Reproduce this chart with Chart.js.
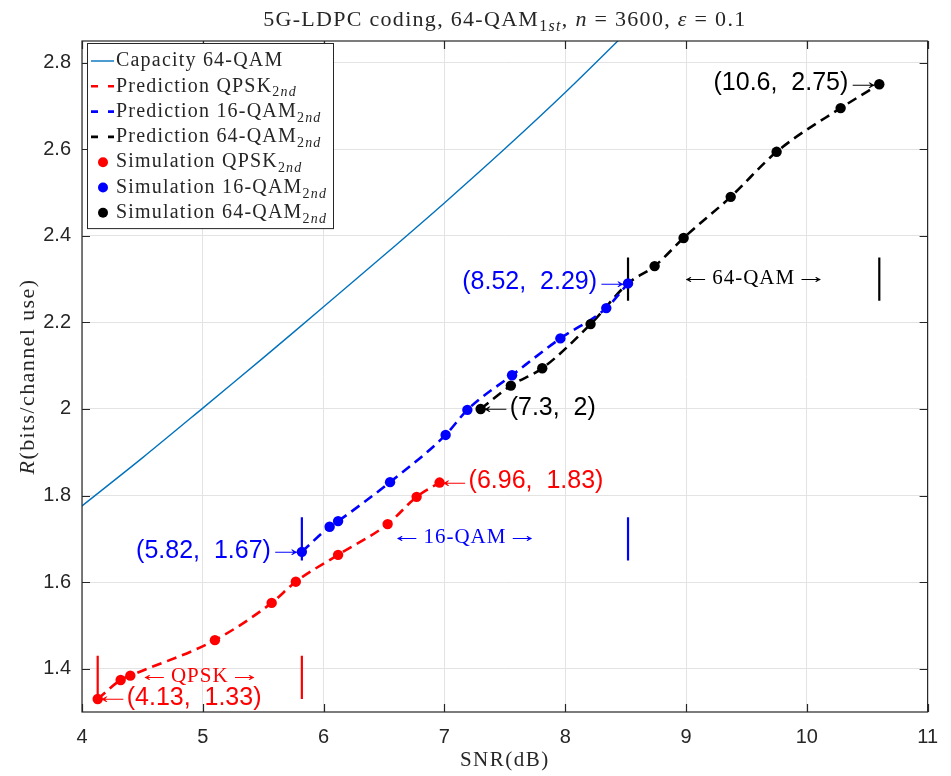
<!DOCTYPE html>
<html>
<head>
<meta charset="utf-8">
<script src="https://cdn.jsdelivr.net/npm/chart.js@4/dist/chart.umd.min.js"></script>
<style>
  html, body { margin: 0; padding: 0; background: #fff; }
  canvas { display: block; }
</style>
</head>
<body>
<canvas id="rateChart" width="951" height="776"></canvas>
<script>
/* ========= DATA ========= */

const xTicks = [4, 5, 6, 7, 8, 9, 10, 11];
const yTicks = [1.4, 1.6, 1.8, 2, 2.2, 2.4, 2.6, 2.8];

// 64-QAM capacity curve
const capSnr  = [4, 4.5, 5, 5.5, 6, 6.5, 7, 7.5, 8, 8.5, 8.7];
const capRate = [1.776, 1.887, 2.002, 2.118, 2.236, 2.355, 2.476, 2.601, 2.731, 2.868, 2.925];

// predicted rate per 2nd-layer modulation
const predQpskSnr  = [4.13, 4.32, 4.4, 5.1, 5.57, 5.77, 6.12, 6.53, 6.77, 6.96];
const predQpskRate = [1.33, 1.374, 1.384, 1.466, 1.552, 1.601, 1.663, 1.734, 1.797, 1.83];
const pred16Snr  = [5.82, 6.05, 6.12, 6.55, 7.01, 7.19, 7.56, 7.96, 8.34, 8.52];
const pred16Rate = [1.67, 1.728, 1.741, 1.831, 1.94, 1.998, 2.078, 2.163, 2.233, 2.29];
const pred64Snr  = [7.3, 7.55, 7.81, 8.21, 8.52, 8.74, 8.98, 9.37, 9.75, 10.28, 10.6];
const pred64Rate = [2, 2.054, 2.094, 2.196, 2.29, 2.33, 2.395, 2.49, 2.594, 2.695, 2.75];

// simulated rate per 2nd-layer modulation
const simQpskSnr  = [4.13, 4.32, 4.4, 5.1, 5.57, 5.77, 6.12, 6.53, 6.77, 6.96];
const simQpskRate = [1.33, 1.374, 1.384, 1.466, 1.552, 1.601, 1.663, 1.734, 1.797, 1.83];
const sim16Snr  = [5.82, 6.05, 6.12, 6.55, 7.01, 7.19, 7.56, 7.96, 8.34, 8.52];
const sim16Rate = [1.67, 1.728, 1.741, 1.831, 1.94, 1.998, 2.078, 2.163, 2.233, 2.29];
const sim64Snr  = [7.3, 7.55, 7.81, 8.21, 8.74, 8.98, 9.37, 9.75, 10.28, 10.6];
const sim64Rate = [2, 2.054, 2.094, 2.196, 2.33, 2.395, 2.49, 2.594, 2.695, 2.75];

// switching points between modulations (SNR, rate)
const tagsQpsk = [[4.13, 1.33], [6.96, 1.83]];
const tags16   = [[5.82, 1.67], [8.52, 2.29]];
const tags64   = [[7.3, 2], [10.6, 2.75]];

// SNR range where each modulation is used
const regionNames = ["QPSK", "16-QAM", "64-QAM"];
const regionEdges = [[4.13, 5.82], [5.82, 8.52], [8.52, 10.6]];


/* ========= STYLE ========= */

const RED = "#ff0000";
const BLUE = "#0000ff";
const BLACK = "#000000";
const CAP = "#0072bd";
const AXIS = "#262626";
const SERIF = '"Liberation Serif", "Times New Roman", serif';
const SANS = '"Liberation Sans", Arial, sans-serif';

const toPoints = (xs, ys) => xs.map((x, i) => ({ x: x, y: ys[i] }));

function predLine(label, xs, ys, color) {
    return {
        label: label,
        data: toPoints(xs, ys),
        showLine: true,
        borderColor: color,
        borderWidth: 2.6,
        borderDash: [10, 6],
        cubicInterpolationMode: "monotone",
        pointRadius: 0,
        order: 5
    };
}

function simDots(label, xs, ys, color) {
    return {
        label: label,
        data: toPoints(xs, ys),
        showLine: false,
        backgroundColor: color,
        pointRadius: 5.2,
        pointBorderWidth: 0,
        order: 1
    };
}

// vertical bars marking where each modulation starts and stops
const barSpan = { "QPSK": [1.33, 1.43], "16-QAM": [1.65, 1.75], "64-QAM": [2.25, 2.35] };
const regionColor = { "QPSK": RED, "16-QAM": BLUE, "64-QAM": BLACK };
const regionTextY = { "QPSK": 1.381, "16-QAM": 1.704, "64-QAM": 2.302 };

const barSets = [];
regionNames.forEach((name, r) => {
    regionEdges[r].forEach(x => {
        barSets.push({
            data: [{ x: x, y: barSpan[name][0] }, { x: x, y: barSpan[name][1] }],
            showLine: true,
            borderColor: regionColor[name],
            borderWidth: 2.2,
            pointRadius: 0,
            order: 8
        });
    });
});


/* ========= TEXT HELPERS ========= */

// parts: [text, kind]  kind: "" plain, "i" italic, "s" subscript, "si" italic subscript, "a" arrow
function fontFor(kind, size) {
    const small = kind.indexOf("s") === 0;
    const italic = kind.indexOf("i") >= 0;
    return (italic ? "italic " : "") + (small ? Math.round(size * 0.72) : size) + "px " + SERIF;
}

// long TeX-style arrow: the serif glyph stretched so its ink spans `width` px from x
function arrowText(ctx, ch, x, y, width) {
    ctx.save();
    ctx.textAlign = "left";
    const m = ctx.measureText(ch);
    const ink = m.actualBoundingBoxLeft + m.actualBoundingBoxRight;
    ctx.translate(x, y - 2);
    ctx.scale(width / ink, 1);
    ctx.fillText(ch, m.actualBoundingBoxLeft, 0);
    ctx.restore();
}

function richText(ctx, parts, x, y, size, align, spacing) {
    const gap = (spacing || 0) + "px";
    const arrowW = size * 0.95;
    const widthOf = p => p[1] === "a" ? arrowW : ctx.measureText(p[0]).width;
    ctx.textAlign = "left";
    ctx.textBaseline = "middle";
    let width = 0;
    parts.forEach(p => {
        ctx.font = fontFor(p[1], size);
        ctx.letterSpacing = p[1] === "a" ? "0px" : gap;
        width += widthOf(p);
    });
    let cx = align === "center" ? x - width / 2 : (align === "right" ? x - width : x);
    parts.forEach(p => {
        ctx.font = fontFor(p[1], size);
        ctx.letterSpacing = p[1] === "a" ? "0px" : gap;
        const sub = p[1].indexOf("s") === 0;
        if (p[1] === "a") {
            arrowText(ctx, p[0], cx, y + 1, arrowW);
        } else {
            ctx.fillText(p[0], cx, sub ? y + size * 0.32 : y);
        }
        cx += widthOf(p);
    });
    ctx.letterSpacing = "0px";
}

const sub2nd = [["2", "s"], ["nd", "si"]];

const legendRows = [
    { kind: "solid", color: CAP, text: [["Capacity 64-QAM", ""]] },
    { kind: "dash", color: RED, text: [["Prediction QPSK", ""]].concat(sub2nd) },
    { kind: "dash", color: BLUE, text: [["Prediction 16-QAM", ""]].concat(sub2nd) },
    { kind: "dash", color: BLACK, text: [["Prediction 64-QAM", ""]].concat(sub2nd) },
    { kind: "dot", color: RED, text: [["Simulation QPSK", ""]].concat(sub2nd) },
    { kind: "dot", color: BLUE, text: [["Simulation 16-QAM", ""]].concat(sub2nd) },
    { kind: "dot", color: BLACK, text: [["Simulation 64-QAM", ""]].concat(sub2nd) }
];


/* ========= DECORATION PLUGIN ========= */

const decorations = {
    id: "decorations",
    afterDraw(chart) {
        const ctx = chart.ctx;
        const area = chart.chartArea;
        const xs = chart.scales.x;
        const ys = chart.scales.y;

        ctx.save();

        // axes box with inward ticks on every side
        ctx.strokeStyle = AXIS;
        ctx.lineWidth = 1.2;
        ctx.strokeRect(area.left, area.top, area.right - area.left, area.bottom - area.top);
        ctx.beginPath();
        xTicks.forEach(v => {
            const px = Math.round(xs.getPixelForValue(v)) + 0.5;
            ctx.moveTo(px, area.bottom); ctx.lineTo(px, area.bottom - 8);
            ctx.moveTo(px, area.top); ctx.lineTo(px, area.top + 8);
        });
        yTicks.forEach(v => {
            const py = Math.round(ys.getPixelForValue(v)) + 0.5;
            ctx.moveTo(area.left, py); ctx.lineTo(area.left + 8, py);
            ctx.moveTo(area.right, py); ctx.lineTo(area.right - 8, py);
        });
        ctx.stroke();

        // title and axis titles
        ctx.fillStyle = AXIS;
        richText(ctx, [["5G-LDPC coding, 64-QAM", ""], ["1", "s"], ["st", "si"], [", ", ""],
            ["n", "i"], [" = 3600, ", ""], ["\u03b5", "i"], [" = 0.1", ""]],
            (area.left + area.right) / 2, 20, 22, "center", 1.3);
        richText(ctx, [["SNR(dB)", ""]], (area.left + area.right) / 2, 760, 21, "center", 1.5);
        ctx.save();
        ctx.translate(28, (area.top + area.bottom) / 2);
        ctx.rotate(-Math.PI / 2);
        richText(ctx, [["R", "i"], ["(bits/channel use)", ""]], 0, 0, 22, "center", 1.4);
        ctx.restore();

        // modulation ranges
        regionNames.forEach((name, r) => {
            const mid = (regionEdges[r][0] + regionEdges[r][1]) / 2;
            ctx.fillStyle = regionColor[name];
            richText(ctx, [["\u2190", "a"], [" " + name + " ", ""], ["\u2192", "a"]],
                xs.getPixelForValue(mid), ys.getPixelForValue(regionTextY[name]), 21, "center", 1);
        });

        // switching point labels
        const drawTag = (pt, color, toRight) => {
            const px = xs.getPixelForValue(pt[0]);
            const py = ys.getPixelForValue(pt[1]);
            const label = "(" + pt[0] + ",  " + pt[1] + ")";
            const arrowW = 25;
            ctx.fillStyle = color;
            ctx.textBaseline = "middle";
            ctx.font = "24px " + SERIF;
            if (toRight) {
                arrowText(ctx, "\u2190", px + 2, py, arrowW);
                ctx.font = "25px " + SANS;
                ctx.textAlign = "left";
                ctx.fillText(label, px + 4 + arrowW, py - 1);
            } else {
                arrowText(ctx, "\u2192", px - 3 - arrowW, py, arrowW);
                ctx.font = "25px " + SANS;
                ctx.textAlign = "right";
                ctx.fillText(label, px - 6 - arrowW, py - 1);
            }
        };
        drawTag(tagsQpsk[0], RED, true);
        drawTag(tagsQpsk[1], RED, true);
        drawTag(tags16[0], BLUE, false);
        drawTag(tags16[1], BLUE, false);
        drawTag(tags64[0], BLACK, true);
        drawTag(tags64[1], BLACK, false);

        // legend
        const lx = area.left + 5, ly = area.top + 2, lw = 246, rowH = 25.3;
        ctx.fillStyle = "#fff";
        ctx.fillRect(lx, ly, lw, rowH * legendRows.length + 8);
        ctx.strokeStyle = AXIS;
        ctx.lineWidth = 1;
        ctx.strokeRect(lx + 0.5, ly + 0.5, lw, rowH * legendRows.length + 8);
        legendRows.forEach((row, i) => {
            const cy = ly + 18 + i * rowH;
            ctx.strokeStyle = row.color;
            ctx.fillStyle = row.color;
            if (row.kind === "dot") {
                ctx.beginPath();
                ctx.arc(lx + 16, cy, 5, 0, Math.PI * 2);
                ctx.fill();
            } else {
                ctx.lineWidth = row.kind === "dash" ? 2.6 : 1.4;
                ctx.setLineDash(row.kind === "dash" ? [7, 10] : []);
                ctx.beginPath();
                ctx.moveTo(lx + 4, cy);
                ctx.lineTo(lx + 27, cy);
                ctx.stroke();
                ctx.setLineDash([]);
            }
            ctx.fillStyle = AXIS;
            richText(ctx, row.text, lx + 29, cy, 20, "left", 1.2);
        });

        ctx.restore();
    }
};


/* ========= CHART ========= */

new Chart(document.getElementById("rateChart"), {

    type: "scatter",

    data: {
        datasets: [
            {
                label: "Capacity 64-QAM",
                data: toPoints(capSnr, capRate),
                showLine: true,
                borderColor: CAP,
                borderWidth: 1.4,
                tension: 0.3,
                pointRadius: 0,
                order: 9
            },
            predLine("Prediction QPSK", predQpskSnr, predQpskRate, RED),
            predLine("Prediction 16-QAM", pred16Snr, pred16Rate, BLUE),
            predLine("Prediction 64-QAM", pred64Snr, pred64Rate, BLACK),
            simDots("Simulation QPSK", simQpskSnr, simQpskRate, RED),
            simDots("Simulation 16-QAM", sim16Snr, sim16Rate, BLUE),
            simDots("Simulation 64-QAM", sim64Snr, sim64Rate, BLACK)
        ].concat(barSets)
    },

    options: {
        responsive: false,
        animation: false,
        devicePixelRatio: 1,
        layout: { padding: { top: 41, right: 18, left: 0, bottom: 0 } },
        plugins: {
            legend: { display: false },
            title: { display: false },
            tooltip: { enabled: false }
        },
        scales: {
            x: {
                type: "linear",
                min: 4,
                max: 11,
                afterBuildTicks: s => { s.ticks = xTicks.map(v => ({ value: v })); },
                afterFit: s => { s.height = 64; },
                grid: { color: "#e3e3e3", lineWidth: 1, drawTicks: false },
                border: { display: false },
                ticks: {
                    padding: 13,
                    color: AXIS,
                    font: { family: SANS, size: 20 },
                    callback: v => String(v)
                }
            },
            y: {
                type: "linear",
                min: 1.3,
                max: 2.85,
                afterBuildTicks: s => { s.ticks = yTicks.map(v => ({ value: v })); },
                afterFit: s => { s.width = 82; },
                grid: { color: "#e3e3e3", lineWidth: 1, drawTicks: false },
                border: { display: false },
                ticks: {
                    padding: 11,
                    color: AXIS,
                    font: { family: SANS, size: 20 },
                    callback: v => String(+v.toFixed(1))
                }
            }
        }
    },

    plugins: [decorations]

});
</script>
</body>
</html>
